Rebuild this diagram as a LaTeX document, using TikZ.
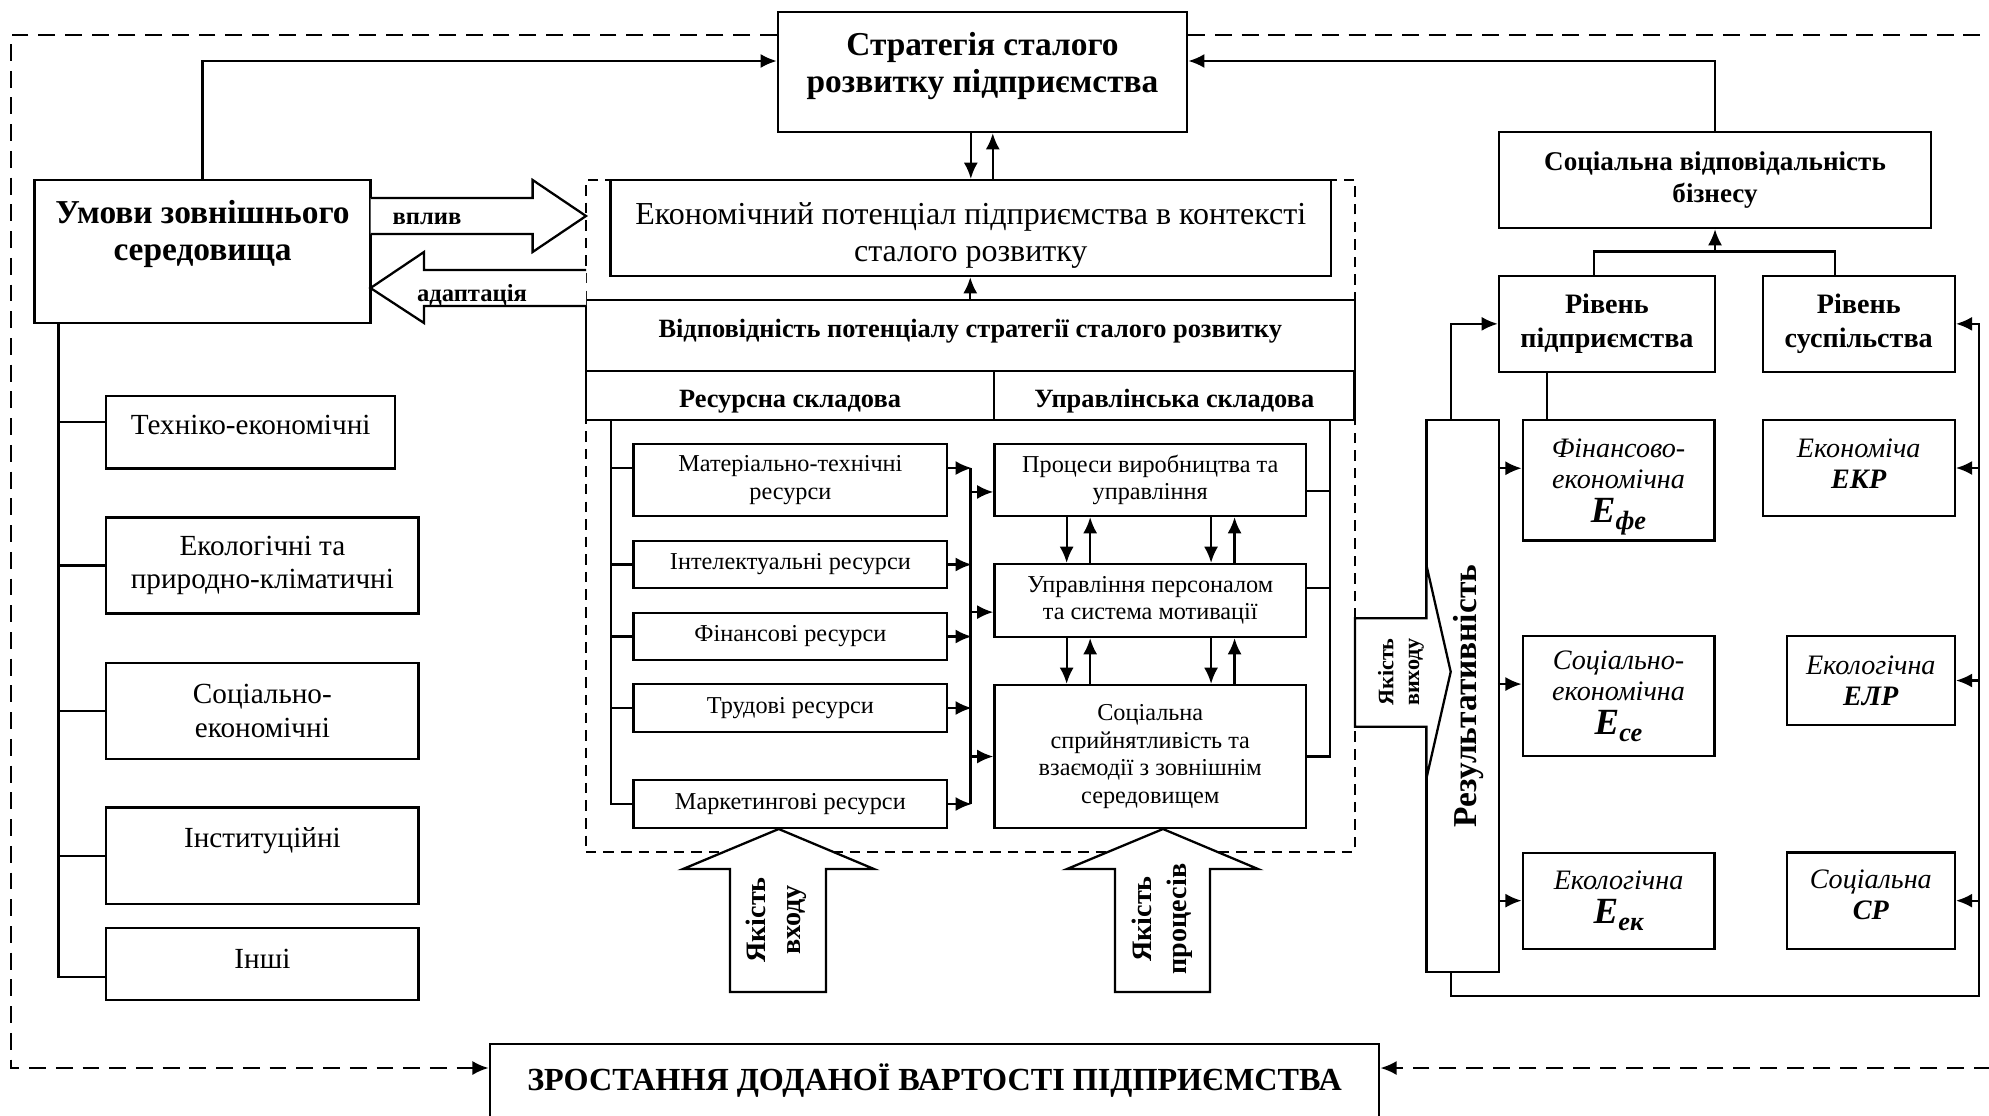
\documentclass[tikz,border=0pt]{standalone}
\usepackage{fontspec}
\setmainfont{Liberation Serif}
\usepackage{graphicx}
\usetikzlibrary{arrows.meta,positioning,calc}
\newcommand{\Eind}[1]{{\fontsize{10.5}{11}\selectfont\bfseries\itshape E}{\fontsize{7.5}{8}\selectfont\bfseries\itshape\raisebox{-1.8pt}{#1}}}
\tikzset{
  box/.style={draw, fill=white, inner sep=2pt, align=center},
  outer/.style={dash pattern=on 4.8pt off 2.8pt},
  potb/.style={draw, dash pattern=on 3pt off 2pt},
  blk/.style={draw, fill=white},
  ftit/.style={font=\fontsize{9.5}{10.5}\selectfont\bfseries, align=center},
  fbig/.style={font=\fontsize{9.1}{10.4}\selectfont},
  fsub/.style={font=\fontsize{7.5}{8.5}\selectfont\bfseries},
  fres/.style={font=\fontsize{6.9}{7.8}\selectfont},
  flft/.style={font=\fontsize{8.3}{9.6}\selectfont},
  fsvb/.style={font=\fontsize{7.7}{9.1}\selectfont\bfseries},
  friv/.style={font=\fontsize{8}{9.7}\selectfont\bfseries},
  fital/.style={font=\fontsize{8}{8.8}\selectfont\itshape},
  farr/.style={font=\fontsize{7}{8}\selectfont\bfseries},
  fq/.style={font=\fontsize{8}{10}\selectfont\bfseries, align=center},
  fqs/.style={font=\fontsize{6.3}{7.3}\selectfont\bfseries, align=center},
  fzr/.style={font=\fontsize{9.15}{10}\selectfont\bfseries},
}
\begin{document}
\begin{tikzpicture}[x=0.01cm, y=-0.01cm, line width=0.65pt, >={Latex[length=4.6pt,width=4pt]}]
\useasboundingbox (0,0) rectangle (1989,1115);
\coordinate (fy) at (0,35);
\coordinate (fb) at (0,1068);
\coordinate (ty) at (0,61);
\coordinate (jy) at (0,252.7);
\coordinate (lb) at (58.6,0);
\coordinate (ib) at (611,420);
\coordinate (mb) at (970.5,468);
\coordinate (rb) at (1330,420);
\coordinate (rl) at (1450.7,0);
\coordinate (rr) at (1978.8,996);

\node[potb, minimum width=7.685cm, minimum height=6.72cm] (pot) at (970.25,516) {};

\node[box, minimum width=4.09cm, minimum height=1.2cm] (strat) at (982.5,72) {};
\node[ftit] (strat-t) at (982.5,66) {Стратегія сталого\\розвитку підприємства};
\node[box, minimum width=3.36cm, minimum height=1.43cm] (umovy) at (202.5,251.5) {};
\node[ftit] (umovy-t) at (202.5,234) {Умови зовнішнього\\середовища};

\node[box, flft, minimum width=2.886cm, minimum height=0.726cm, text height=6pt, text depth=5pt] (tex) at (250.7,432.3) {Техніко-економічні};
\node[box, flft, minimum width=3.12cm, minimum height=0.96cm] (eco) at (262.4,565.5) {Екологічні та\\природно-кліматичні};
\node[box, flft, minimum width=3.12cm, minimum height=0.96cm] (soc) at (262.4,711) {Соціально-\\економічні};
\node[box, flft, minimum width=3.12cm, minimum height=0.966cm, text height=6pt, text depth=10.6pt] (inst) at (262.4,855.7) {Інституційні};
\node[box, flft, minimum width=3.12cm, minimum height=0.72cm, text height=6pt, text depth=3.4pt] (inshi) at (262.4,964) {Інші};

\node[box, fbig, inner sep=0.5pt, minimum width=7.204cm, minimum height=0.96cm] (econ) at (970.8,228) {\rule{0pt}{10.5pt}Економічний потенціал підприємства в контексті\\сталого розвитку};
\node[box, fsub, text depth=3.8pt, minimum width=7.685cm, minimum height=0.71cm] (vidp) at (970.25,335.5) {Відповідність потенціалу стратегії сталого розвитку};
\node[box, fsub, inner ysep=1pt, text height=8.3pt, minimum width=4.08cm, minimum height=0.49cm] (res) at (790,395.5) {Ресурсна складова};
\node[box, fsub, inner ysep=1pt, text height=8.3pt, minimum width=3.605cm, minimum height=0.49cm] (upr) at (1174.25,395.5) {Управлінська складова};

\node[box, fres, minimum width=3.133cm, minimum height=0.72cm] (mat) at (790.35,480) {Матеріально-технічні\\ресурси};
\node[box, fres, minimum width=3.133cm, minimum height=0.47cm] (intel) at (790.35,564.5) {Інтелектуальні ресурси};
\node[box, fres, minimum width=3.133cm, minimum height=0.47cm] (fin) at (790.35,636.5) {Фінансові ресурси};
\node[box, fres, minimum width=3.133cm, minimum height=0.48cm] (trud) at (790.35,708) {Трудові ресурси};
\node[box, fres, minimum width=3.133cm, minimum height=0.48cm] (mark) at (790.35,804) {Маркетингові ресурси};

\node[box, fres, minimum width=3.115cm, minimum height=0.72cm] (proc) at (1150.25,480) {Процеси виробництва та\\управління};
\node[box, fres, minimum width=3.115cm, minimum height=0.73cm] (pers) at (1150.25,600.5) {Управління персоналом\\та система мотивації};
\node[box, fres, minimum width=3.115cm, minimum height=1.43cm] (socs) at (1150.25,756.5) {Соціальна\\сприйнятливість та\\взаємодії з зовнішнім\\середовищем};

\node[box, fsvb, minimum width=4.32cm, minimum height=0.963cm] (svb) at (1715,179.85) {Соціальна відповідальність\\бізнесу};
\node[box, friv, minimum width=2.158cm, minimum height=0.957cm] (rivp) at (1606.9,323.85) {Рівень\\підприємства};
\node[box, friv, minimum width=1.92cm, minimum height=0.957cm] (rivs) at (1858.7,323.85) {Рівень\\суспільства};
\node[box, font=\fontsize{9.5}{10}\selectfont\bfseries, minimum width=0.725cm, minimum height=5.52cm] (rez) at (1462.75,696) {\hspace{3pt}\rotatebox{90}{Результативність}};

\node[box, fital, inner sep=1pt, minimum width=1.915cm, minimum height=1.204cm] (fe) at (1618.55,480.2) {\rule{0pt}{9pt}Фінансово-\\економічна\\[1pt]\Eind{фе}};
\node[box, fital, minimum width=1.915cm, minimum height=1.2cm] (se) at (1618.55,696) {Соціально-\\економічна\\[1pt]\Eind{се}};
\node[box, fital, minimum width=1.915cm, minimum height=0.959cm] (ek) at (1618.55,900.65) {Екологічна\\[1pt]\Eind{ек}};
\node[box, fital, minimum width=1.92cm, minimum height=0.96cm] (ekr) at (1858.7,468) {Економіча\\\textbf{ЕКР}\rule[-2.5pt]{0pt}{2.5pt}};
\node[box, fital, minimum width=1.68cm, minimum height=0.89cm] (elr) at (1870.75,680.5) {Екологічна\\\textbf{ЕЛР}};
\node[box, fital, minimum width=1.68cm, minimum height=0.96cm] (sr) at (1870.75,900.65) {Соціальна\\\textbf{СР}\rule[-3.6pt]{0pt}{3.6pt}};

\node[box, fzr, minimum width=8.89cm, minimum height=0.73cm] (zrost) at (934.5,1080.5) {ЗРОСТАННЯ ДОДАНОЇ ВАРТОСТІ ПІДПРИЄМСТВА};

% block arrows
\draw[blk] (370.5,198) -- (532.6,198) -- (532.6,180) -- (586,216) -- (532.6,252) -- (532.6,234) -- (370.5,234);
\node[farr] (vplyv) at (427,219) {вплив};
\draw[blk] (586,270) -- (424,270) -- (424,252) -- (370.5,288) -- (424,323) -- (424,306) -- (586,306);
\node[farr] (adapt) at (472,295) {адаптація};
\draw[blk] (730,992) -- (730,869) -- (683,869) -- (778.7,829) -- (874,869) -- (826,869) -- (826,992) -- cycle;
\node[fq, rotate=90] (qin) at (776,920) {Якість\\входу};
\draw[blk] (1115,992) -- (1115,869) -- (1067,869) -- (1163,829) -- (1258,869) -- (1210,869) -- (1210,992) -- cycle;
\node[fq, rotate=90] (qpr) at (1162.5,919) {Якість\\процесів};
\draw[blk] (1355,618.3) -- (1426.5,618.3) -- (1426.5,565.5) -- (1450.7,671.8) -- (1426.5,778) -- (1426.5,726.7) -- (1355,726.7) -- cycle;
\node[fqs, rotate=90] (qout) at (1401,672) {Якість\\виходу};

% outer loop
\draw[outer,->] (strat.west |- fy) -- (10.7,35) -- (10.7,1068) -- (zrost.west |- fb);
\draw[outer,->] (strat.east |- fy) -- (1995,35) -- (1995,1068) -- (zrost.east |- fb);
\draw[->] (umovy.north) |- (strat.west |- ty);
\draw[->] (svb.north) |- (strat.east |- ty);
\draw[->] (strat.south -| econ.north) -- (econ.north);
\draw[->] (econ.north -| upr.west) -- (strat.south -| upr.west);
\draw[->] (vidp.north) -- (vidp.north |- econ.south);

% factors
\draw (umovy.south -| lb) |- ([yshift=-3.6pt]inshi.west);
\draw ([yshift=3pt]tex.west) -- ++(-47.8,0);
\foreach \n in {eco,soc,inst} \draw (\n.west) -- ++(-47.8,0);

% resources
\draw (mark.west) -| (ib);
\draw ([yshift=3.4pt]mat.west) -- ++(-22.7,0);
\foreach \n in {intel,fin,trud} \draw (\n.west) -- ++(-22.7,0);
\draw[->] ([yshift=3.4pt]mat.east) -- ++(23.5,0);
\foreach \n in {intel,fin,trud,mark} \draw[->] (\n.east) -- ++(23.5,0);
\draw (mb) -- (mb |- mark.east);
\draw[->] ([yshift=-3.4pt]proc.west) ++(-24,0) -- ++(24,0);
\draw[->] ([yshift=-3.3pt]pers.west) ++(-24,0) -- ++(24,0);
\draw[->] (socs.west) ++(-24,0) -- ++(24,0);
\foreach \a/\b in {proc/pers,pers/socs}
  \foreach \dx in {-83.6,60.8} {
    \draw[->] ($(\a.south)+(\dx,0)$) -- ($(\b.north)+(\dx,0)$);
    \draw[->] ($(\b.north)+(\dx+23.5,0)$) -- ($(\a.south)+(\dx+23.5,0)$);
  }
\draw (socs.east) -| (rb);
\draw ([yshift=-3.1pt]proc.east) -- ++(24,0);
\draw ([yshift=3.6pt]pers.east) -- ++(24,0);

% results
\draw ($(rivp.north)+(-12.9,0)$) -- ++(0,-23.3) -| ($(rivs.north)+(-24,0)$);
\draw[->] (svb.south |- jy) -- (svb.south);
\draw ($(rivp.south)+(-59.9,0)$) -- ++(0,48.3);
\draw[->] (rez.north -| rl) |- (rivp.west);
\draw[->] (rez.south -| rl) |- (rr) |- (rivs.east);
\foreach \n in {ekr,elr,sr} \draw[->] (\n.east -| rr) -- (\n.east);
\draw[->] ([yshift=3.4pt]fe.west) ++(-23.8,0) -- ++(23.8,0);
\draw[->] ([yshift=3.4pt]se.west) ++(-23.8,0) -- ++(23.8,0);
\draw[->] (ek.west) ++(-23.8,0) -- ++(23.8,0);
\end{tikzpicture}
\end{document}
